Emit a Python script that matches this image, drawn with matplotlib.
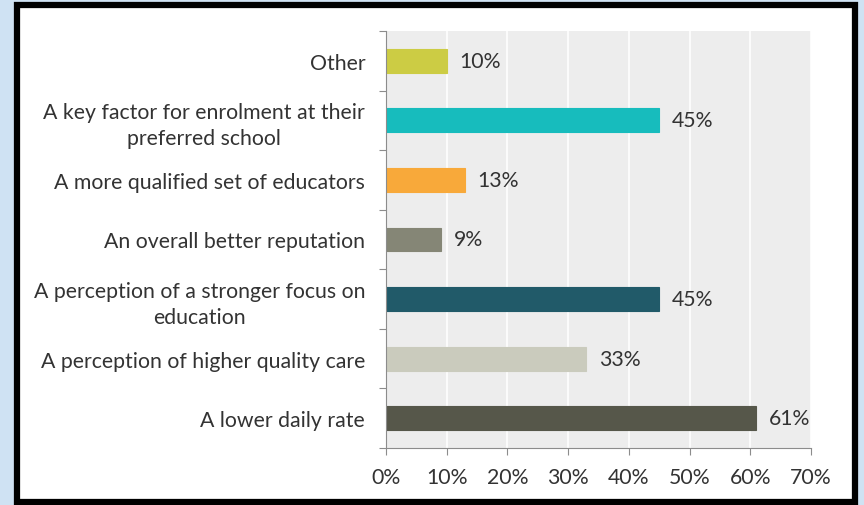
import matplotlib
matplotlib.use("Agg")
from matplotlib import pyplot as plt
from matplotlib.patches import Rectangle
from matplotlib.ticker import FixedLocator, FuncFormatter
import numpy as np

categories = [
    "A lower daily rate",
    "A perception of higher quality care",
    "A perception of a stronger focus on\neducation",
    "An overall better reputation",
    "A more qualified set of educators",
    "A key factor for enrolment at their\npreferred school",
    "Other",
]
values = [61, 33, 45, 9, 13, 45, 10]
labels = ["61%", "33%", "45%", "9%", "13%", "45%", "10%"]
colors = ["#56574a", "#cacbbd", "#215a69", "#858676", "#f8a93a", "#17bcbd", "#cccc44"]

plt.rcParams['font.family'] = ['Lato', 'DejaVu Sans']
FS = 15.3

W, H = 864, 506
fig = plt.figure(figsize=(W / 100, H / 100), dpi=100)
fig.patch.set_facecolor("#cfe2f3")

# white panel with black frame
frame = Rectangle((17 / W, 3 / H), (855 - 17) / W, (500 - 3) / H,
                  transform=fig.transFigure, facecolor="white",
                  edgecolor="black", linewidth=4.5, zorder=-5)
fig.patches.append(frame)

ax = fig.add_axes([386 / W, 1 - 449 / H, (811 - 386) / W, (449 - 32) / H])
ax.set_facecolor("#ededed")

y = np.arange(len(categories))
ax.barh(y, values, height=0.4, color=colors, edgecolor=colors, linewidth=0.8, zorder=3)
for yi, v, lab in zip(y, values, labels):
    ax.text(v + 2.1, yi, lab, va="center", ha="left", fontsize=FS, color="#333333", zorder=4)

ax.set_xlim(0, 70)
ax.set_ylim(-0.5, len(categories) - 0.5)
ax.set_xticks(np.arange(0, 71, 10))
ax.xaxis.set_major_formatter(FuncFormatter(lambda x, p: "%d%%" % x))
ax.set_yticks(y)
ax.set_yticklabels(categories, fontsize=FS, color="#333333", ha="right")
for t in ax.get_yticklabels():
    t.set_multialignment("center")
    t.set_linespacing(1.35)
ax.tick_params(axis="y", length=0, pad=15)
ax.yaxis.set_minor_locator(FixedLocator(np.arange(-0.5, len(categories), 1)))
ax.tick_params(axis="y", which="minor", length=5, color="#8c8c8c", width=0.8)
ax.tick_params(axis="x", length=5, color="#8c8c8c", width=0.8, labelsize=FS,
               labelcolor="#333333", pad=9)
ax.grid(axis="x", color="white", linewidth=1.2, zorder=1)
ax.set_axisbelow(True)
for s in ["top", "right"]:
    ax.spines[s].set_visible(False)
ax.spines["left"].set_color("#8c8c8c")
ax.spines["bottom"].set_color("#8c8c8c")
ax.spines["left"].set_zorder(5)

fig.savefig("out.png", dpi=100, facecolor=fig.get_facecolor())
